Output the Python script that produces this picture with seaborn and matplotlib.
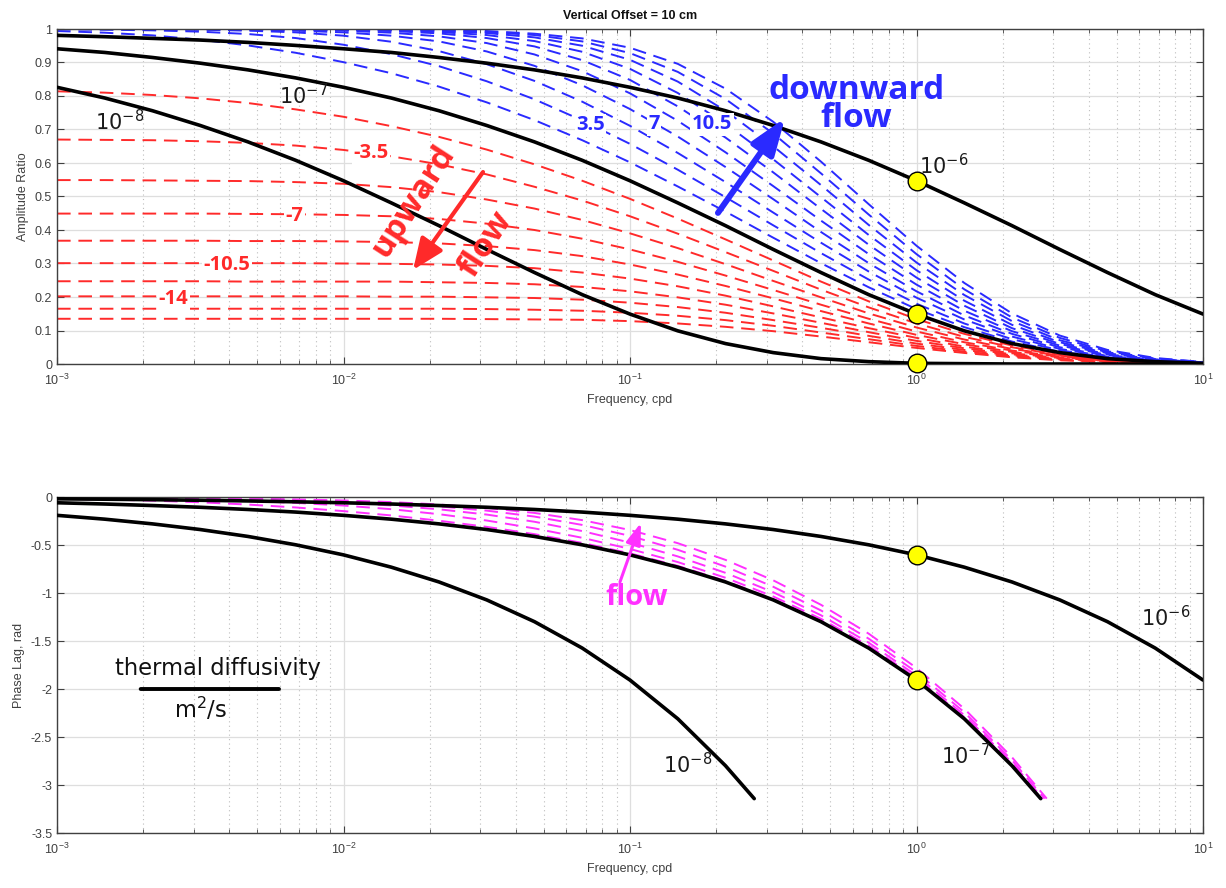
import numpy as np
import pandas as pd
import matplotlib
matplotlib.use("Agg")
import matplotlib.pyplot as plt
import seaborn as sns
from matplotlib.ticker import LogLocator, LogFormatterSciNotation, NullFormatter, FuncFormatter

# ---------------- data ----------------
freq = [0.001, 0.001468, 0.002154, 0.003162, 0.004642, 0.006813, 0.01, 0.01468, 0.02154, 0.03162,
        0.04642, 0.06813, 0.1, 0.1468, 0.2154, 0.3162, 0.4642, 0.6813, 1, 1.468, 2.154, 3.162,
        4.642, 6.813, 10]

# thermal-front velocities of the dashed curves, cm/day (upward = red, downward = blue)
flow_velocity = [1.75, 3.5, 5.25, 7, 8.75, 10.5, 12.25, 14, 15.75, 17.5]

amp_upward = [
    [.814, .81, .803, .793, .779, .76, .738, .71, .678, .64, .596, .547, .493, .434, .372, .309, .246, .187, .134, .09, .055, .03, .015, .006, .002],
    [.670, .669, .668, .665, .660, .652, .639, .620, .596, .566, .529, .488, .441, .389, .334, .278, .222, .169, .121, .081, .050, .027, .013, .006, .002],
    [.549, .549, .548, .547, .546, .543, .538, .528, .513, .491, .464, .430, .390, .346, .298, .248, .199, .151, .109, .073, .045, .025, .012, .005, .002],
    [.449, .449, .449, .449, .448, .447, .445, .441, .433, .419, .400, .374, .342, .305, .264, .221, .177, .135, .097, .065, .040, .022, .011, .005, .002],
    [.368, .368, .368, .368, .367, .367, .366, .364, .360, .352, .340, .322, .297, .267, .233, .196, .158, .121, .087, .059, .036, .020, .010, .004, .001],
    [.301, .301, .301, .301, .301, .301, .300, .299, .297, .293, .286, .273, .255, .232, .204, .172, .139, .107, .078, .052, .032, .018, .009, .004, .001],
    [.247, .247, .247, .247, .246, .246, .246, .246, .244, .242, .238, .230, .217, .199, .177, .151, .123, .095, .069, .047, .029, .016, .008, .003, .001],
    [.202, .202, .202, .202, .202, .202, .202, .201, .201, .199, .197, .192, .183, .170, .153, .131, .108, .084, .061, .042, .026, .014, .007, .003, .001],
    [.165, .165, .165, .165, .165, .165, .165, .165, .165, .164, .162, .159, .153, .144, .131, .114, .094, .074, .054, .037, .023, .013, .006, .003, .001],
    [.135, .135, .135, .135, .135, .135, .135, .135, .135, .134, .133, .132, .128, .121, .111, .098, .082, .065, .048, .033, .020, .011, .006, .002, .001],
]

amp_downward = [
    [.994, .989, .981, .968, .951, .929, .901, .868, .828, .781, .728, .668, .602, .530, .455, .377, .301, .229, .164, .110, .067, .037, .018, .008, .003],
    [.999, .998, .996, .992, .985, .973, .953, .925, .889, .844, .790, .727, .657, .580, .498, .414, .331, .252, .180, .121, .074, .041, .020, .008, .003],
    [1.0, .999, .999, .998, .995, .990, .980, .962, .934, .895, .845, .783, .711, .630, .543, .452, .362, .276, .198, .133, .082, .045, .022, .009, .003],
    [1.0, 1.0, 1.0, .999, .998, .995, .990, .980, .963, .933, .890, .832, .761, .679, .588, .492, .394, .301, .217, .145, .090, .050, .024, .010, .004],
    [1.0, 1.0, 1.0, .999, .999, .998, .995, .989, .978, .958, .924, .874, .808, .726, .632, .531, .428, .328, .237, .159, .098, .055, .027, .011, .004],
    [1.0, 1.0, 1.0, 1.0, .999, .999, .997, .994, .987, .973, .948, .907, .848, .769, .676, .572, .463, .356, .258, .174, .107, .060, .029, .012, .004],
    [1.0, 1.0, 1.0, 1.0, 1.0, .999, .998, .996, .991, .982, .964, .932, .881, .809, .717, .611, .498, .385, .280, .189, .117, .065, .032, .014, .005],
    [1.0, 1.0, 1.0, 1.0, 1.0, .999, .999, .997, .994, .988, .975, .950, .908, .843, .756, .650, .534, .415, .303, .206, .128, .071, .035, .015, .005],
    [1.0, 1.0, 1.0, 1.0, 1.0, 1.0, .999, .998, .996, .991, .982, .963, .928, .872, .791, .688, .569, .446, .328, .223, .139, .078, .038, .016, .006],
    [1.0, 1.0, 1.0, 1.0, 1.0, 1.0, .999, .999, .997, .994, .986, .972, .944, .896, .822, .723, .604, .477, .353, .242, .151, .085, .042, .018, .006],
]

# conduction-only curves (thermal diffusivity 1e-6, 1e-7, 1e-8 m^2/s)
amp_k1e6 = [.981, .977, .972, .967, .960, .951, .941, .930, .915, .898, .878, .854, .826, .794, .756, .712, .663, .608, .547, .481, .413, .342, .273, .207, .149]
amp_k1e7 = [.941, .930, .915, .898, .878, .854, .826, .794, .756, .712, .663, .608, .547, .481, .413, .342, .273, .207, .149, .099, .061, .034, .016, .007, .002]
amp_k1e8 = [.826, .794, .756, .712, .663, .608, .547, .481, .413, .342, .273, .207, .149, .099, .061, .034, .016, .007, .002, .001, 0, 0, 0, 0, 0]

phase_k1e6 = [-.019, -.023, -.028, -.034, -.041, -.05, -.06, -.073, -.089, -.107, -.13, -.157, -.191, -.231, -.28, -.339, -.411, -.498, -.603, -.731, -.885, -1.072, -1.299, -1.574, -1.907]
phase_k1e7 = [-.06, -.073, -.089, -.107, -.13, -.157, -.191, -.231, -.28, -.339, -.411, -.498, -.603, -.731, -.885, -1.072, -1.299, -1.574, -1.907, -2.31, -2.799, -3.142]
phase_k1e8 = [-.191, -.231, -.28, -.339, -.411, -.498, -.603, -.731, -.885, -1.072, -1.299, -1.574, -1.907, -2.31, -2.799, -3.142]
phase_k1e7_end = 2.714
phase_k1e8_end = 0.2714

# phase with flow (same for up and down), |v| = 3.5, 7, 10.5, 14, 17.5 cm/day
phase_flow = [
    [-.018, -.026, -.038, -.055, -.079, -.109, -.147, -.192, -.247, -.311, -.387, -.478, -.587, -.717, -.874, -1.063, -1.291, -1.568, -1.902, -2.306, -2.795, -3.142],
    [-.009, -.013, -.02, -.029, -.042, -.061, -.089, -.127, -.179, -.245, -.327, -.425, -.541, -.678, -.841, -1.036, -1.269, -1.549, -1.886, -2.293, -2.785, -3.142],
    [-.006, -.009, -.013, -.019, -.028, -.041, -.06, -.088, -.128, -.183, -.258, -.355, -.475, -.619, -.79, -.992, -1.232, -1.518, -1.86, -2.272, -2.767, -3.142],
    [-.005, -.007, -.01, -.014, -.021, -.031, -.045, -.066, -.097, -.142, -.204, -.291, -.405, -.55, -.725, -.935, -1.182, -1.476, -1.825, -2.242, -2.742, -3.142],
    [-.004, -.005, -.008, -.011, -.017, -.025, -.036, -.053, -.078, -.114, -.166, -.241, -.344, -.481, -.655, -.868, -1.123, -1.424, -1.781, -2.205, -2.711, -3.142],
]
phase_flow_end = [2.72, 2.736, 2.763, 2.801, 2.849]

# highlighted values at 1 cpd
amp_at_1cpd = [0.547, 0.149, 0.002]
phase_at_1cpd = [-0.603, -1.907]

# ---------------- plotting ----------------
sns.set_theme(style="white")
plt.rcParams["font.family"] = ["Liberation Sans", "DejaVu Sans"]
plt.rcParams["axes.unicode_minus"] = False
plt.rcParams["mathtext.fontset"] = "dejavusans"

W, H = 1226, 888
fig = plt.figure(figsize=(W / 100, H / 100), dpi=100)
ax1 = fig.add_axes([57 / W, 1 - 364 / H, 1146 / W, 335 / H])
ax2 = fig.add_axes([57 / W, 1 - 833 / H, 1146 / W, 336 / H])

RED, BLUE, MAG = "#ff2a2a", "#2a2aff", "#ff30ff"
DASH = (0, (7, 4))


def trunc_x(row, end):
    return list(freq[:len(row) - 1]) + [end]


def long_df(xrows, yrows):
    recs = []
    for i, (xs, ys) in enumerate(zip(xrows, yrows)):
        for x, y in zip(xs, ys):
            recs.append((i, x, y))
    return pd.DataFrame(recs, columns=["curve", "freq", "val"])


def style(ax, ylim, yticks):
    ax.set_xscale("log")
    ax.set_xlim(1e-3, 10)
    ax.set_ylim(*ylim)
    ax.set_yticks(yticks)
    ax.yaxis.set_major_formatter(FuncFormatter(lambda v, p: "%g" % round(v, 2)))
    ax.xaxis.set_major_locator(LogLocator(base=10, numticks=10))
    ax.xaxis.set_major_formatter(LogFormatterSciNotation())
    ax.xaxis.set_minor_locator(LogLocator(base=10, subs=np.arange(2, 10), numticks=100))
    ax.xaxis.set_minor_formatter(NullFormatter())
    ax.grid(True, which="major", axis="both", color="#dedede", lw=0.9, ls="-")
    ax.grid(True, which="minor", axis="x", color="#bdbdbd", lw=0.8, ls=(0, (1, 3)))
    ax.set_axisbelow(True)
    ax.tick_params(which="both", direction="in", top=True, right=True, bottom=True, left=True,
                   color="#404040", labelcolor="#404040", labelsize=9)
    ax.tick_params(which="major", length=5, width=0.8)
    ax.tick_params(which="minor", length=3, width=0.6)
    ax.tick_params(axis="x", pad=6)
    for s in ax.spines.values():
        s.set_color("#404040")
        s.set_linewidth(1.0)
    ax.set_xlabel("Frequency, cpd", fontsize=9, color="#404040", labelpad=5)


# ---- top panel: amplitude ratio ----
style(ax1, (0, 1), np.arange(0, 1.01, 0.1))
sns.lineplot(data=long_df([freq] * len(amp_upward), amp_upward), x="freq", y="val", units="curve",
             estimator=None, color=RED, lw=1.4, linestyle=DASH, ax=ax1, legend=False, sort=False)
sns.lineplot(data=long_df([freq] * len(amp_downward), amp_downward), x="freq", y="val", units="curve",
             estimator=None, color=BLUE, lw=1.4, linestyle=DASH, ax=ax1, legend=False, sort=False)
for amp in (amp_k1e6, amp_k1e7, amp_k1e8):
    sns.lineplot(x=freq, y=amp, color="black", lw=2.6, ax=ax1, zorder=4, sort=False)
sns.scatterplot(x=[1] * len(amp_at_1cpd), y=amp_at_1cpd, s=180, color="#ffff00", edgecolor="black",
                linewidth=1.0, zorder=6, ax=ax1, legend=False, clip_on=False)
ax1.set_title("Vertical Offset = 10 cm", fontsize=9, fontweight="bold", color="#111111", pad=7)
ax1.set_ylabel("Amplitude Ratio", fontsize=9, color="#404040", labelpad=4)

# ---- bottom panel: phase lag ----
style(ax2, (-3.5, 0), np.arange(-3.5, 0.01, 0.5))
sns.lineplot(data=long_df([trunc_x(r, e) for r, e in zip(phase_flow, phase_flow_end)], phase_flow),
             x="freq", y="val", units="curve", estimator=None, color=MAG, lw=1.4, linestyle=DASH,
             ax=ax2, legend=False, sort=False)
sns.lineplot(x=freq, y=phase_k1e6, color="black", lw=2.6, ax=ax2, zorder=4, sort=False)
sns.lineplot(x=trunc_x(phase_k1e7, phase_k1e7_end), y=phase_k1e7, color="black", lw=2.6, ax=ax2,
             zorder=4, sort=False)
sns.lineplot(x=trunc_x(phase_k1e8, phase_k1e8_end), y=phase_k1e8, color="black", lw=2.6, ax=ax2,
             zorder=4, sort=False)
sns.scatterplot(x=[1] * len(phase_at_1cpd), y=phase_at_1cpd, s=180, color="#ffff00", edgecolor="black",
                linewidth=1.0, zorder=6, ax=ax2, legend=False)
ax2.set_ylabel("Phase Lag, rad", fontsize=9, color="#404040", labelpad=4)

# ---- annotations, top ----
LBL = dict(fontsize=15, family="DejaVu Sans", color="#1a1a1a", va="center", ha="left", zorder=7)
ax1.text(10 ** -2.869, 0.725, "10$^{-8}$", **LBL)
ax1.text(10 ** -2.225, 0.800, "10$^{-7}$", **LBL)
ax1.text(10 ** 0.008, 0.591, "10$^{-6}$", **LBL)
bx = dict(facecolor="white", edgecolor="none", pad=1.0)
RL = dict(fontsize=14.5, fontweight="bold", family="Open Sans", ha="center", va="center", bbox=bx, zorder=5)
for s, lx, y in [("-3.5", -1.903, 0.629), ("-7", -2.172, 0.443), ("-10.5", -2.407, 0.297), ("-14", -2.593, 0.193)]:
    ax1.text(10 ** lx, y, s, color=RED, **RL)
for s, lx, y in [("3.5", -1.138, 0.713), ("7", -0.915, 0.715), ("10.5", -0.714, 0.715)]:
    ax1.text(10 ** lx, y, s, color=BLUE, **RL)
ax1.text(10 ** -0.21, 0.775, "downward\nflow", color=BLUE, fontsize=24, fontweight="bold",
         family="Open Sans", ha="center", va="center", multialignment="center", linespacing=0.78, zorder=7)
ROT = dict(fontsize=24, fontweight="bold", family="Open Sans", ha="center", va="center",
           rotation=57, rotation_mode="anchor", zorder=7)
ax1.text(10 ** -1.757, 0.487, "upward", color=RED, **ROT)
ax1.text(10 ** -1.503, 0.358, "flow", color=RED, **ROT)
ax1.annotate("", xy=(10 ** -0.459, 0.734), xytext=(10 ** -0.693, 0.451),
             arrowprops=dict(arrowstyle="-|>,head_length=2.2,head_width=0.8", color=BLUE, lw=4.3,
                             shrinkA=0, shrinkB=0, mutation_scale=10), zorder=7)
ax1.annotate("", xy=(10 ** -1.757, 0.281), xytext=(10 ** -1.513, 0.573),
             arrowprops=dict(arrowstyle="-|>,head_length=1.9,head_width=0.8", color=RED, lw=3.0,
                             shrinkA=0, shrinkB=0, mutation_scale=10), zorder=7)

# ---- annotations, bottom ----
ax2.text(10 ** 0.785, -1.254, "10$^{-6}$", **LBL)
ax2.text(10 ** 0.085, -2.693, "10$^{-7}$", **LBL)
ax2.text(10 ** -0.884, -2.787, "10$^{-8}$", **LBL)
ax2.text(10 ** -0.976, -1.052, "flow", color=MAG, fontsize=21, fontweight="bold", family="Open Sans",
         ha="center", va="center", zorder=7)
ax2.annotate("", xy=(10 ** -0.962, -0.27), xytext=(10 ** -1.035, -0.885),
             arrowprops=dict(arrowstyle="-|>,head_length=1.3,head_width=0.45", color=MAG, lw=2.2,
                             shrinkA=0, shrinkB=0, mutation_scale=10), zorder=7)
ax2.text(10 ** -2.439, -1.787, "thermal diffusivity", fontsize=16.3, family="DejaVu Sans", color="#111111",
         ha="center", va="center")
ax2.annotate("", xy=(10 ** -2.225, -2.0), xytext=(10 ** -2.708, -2.0),
             arrowprops=dict(arrowstyle="-", color="black", lw=2.8, shrinkA=0, shrinkB=0))
ax2.text(10 ** -2.497, -2.212, "m$^2$/s", fontsize=16.3, family="DejaVu Sans", color="#111111",
         ha="center", va="center")

fig.savefig("out.png", dpi=100)
